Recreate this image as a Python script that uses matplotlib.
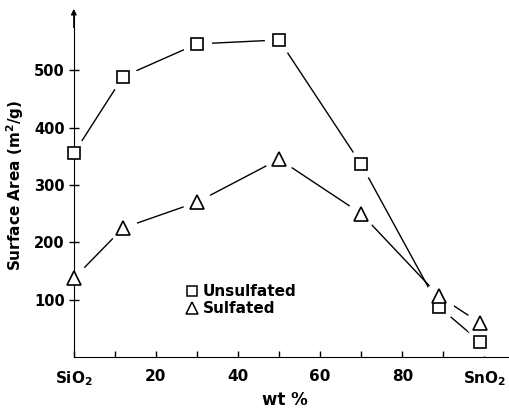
import numpy as np
import matplotlib.pyplot as plt
from matplotlib.lines import Line2D

# Data
wt = [0, 12, 30, 50, 70, 89, 99]
unsulfated = [355, 489, 546, 553, 336, 87, 26]
sulfated = [137, 225, 270, 345, 250, 106, 59]

xtick_pos = [0, 20, 40, 60, 80, 100]
xtick_labels = ["SiO$_2$", "20", "40", "60", "80", "SnO$_2$"]
ytick_pos = [100, 200, 300, 400, 500]

plt.rcParams['font.family'] = ['DejaVu Sans']
plt.rcParams['font.weight'] = 'bold'

fig = plt.figure(figsize=(5.09, 4.12), dpi=100)
ax = fig.add_axes([0.145, 0.1335, 0.855, 0.835])

# lines, then white halos so the lines stop short of the markers
for vals in [unsulfated, sulfated]:
    ax.plot(wt, vals, color='black', lw=1.0, zorder=1, clip_on=False)
    ax.plot(wt, vals, ls='none', marker='o', ms=21, mfc='white', mec='none',
            zorder=2, clip_on=False)

ax.plot(wt, unsulfated, ls='none', marker='s', ms=9, mfc='white', mec='black',
        mew=1.2, zorder=3, clip_on=False)
ax.plot(wt, sulfated, ls='none', marker='^', ms=10, mfc='white', mec='black',
        mew=1.2, zorder=3, clip_on=False)

ax.set_xlim(0, 106)
ax.set_ylim(0, 600)

ax.spines['top'].set_visible(False)
ax.spines['right'].set_visible(False)
ax.spines['left'].set_bounds(0, 595)
ax.annotate('', xy=(0, 612), xytext=(0, 570), xycoords='data',
            arrowprops=dict(arrowstyle='-|>', color='black', lw=1.0,
                            mutation_scale=8), annotation_clip=False)

ax.set_xticks(xtick_pos)
ax.set_xticklabels(xtick_labels)
ax.set_xticks(np.arange(10, 100, 20), minor=True)
ax.set_yticks(ytick_pos)
ax.tick_params(axis='x', which='both', direction='in', length=4, width=1,
               labelsize=11, pad=9)
ax.tick_params(axis='y', direction='inout', length=7, width=1, labelsize=10.5,
               pad=3)

ax.set_ylabel("Surface Area (m$^2$/g)", fontsize=11, fontweight='bold', labelpad=6)
ax.set_xlabel("wt %", fontsize=12, fontweight='bold', labelpad=6)
ax.xaxis.set_label_coords(0.485, -0.1)

handles = [
    Line2D([], [], ls='none', marker='s', ms=7.5, mfc='white', mec='black', mew=1.1),
    Line2D([], [], ls='none', marker='^', ms=9, mfc='white', mec='black', mew=1.1),
]
ax.legend(handles, ["Unsulfated", "Sulfated"], loc='center left',
          bbox_to_anchor=(0.24, 0.165), frameon=False, handlelength=0.8,
          handletextpad=0.3, labelspacing=0.15, borderpad=0,
          prop={'size': 11, 'weight': 'bold'})

fig.savefig("out.png", dpi=100)
